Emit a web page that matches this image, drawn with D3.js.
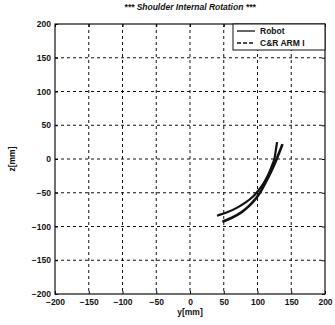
<!DOCTYPE html>
<html>
<head>
<meta charset="utf-8">
<script src="https://cdn.jsdelivr.net/npm/d3@7"></script>
<style>
body { margin: 0; background: #fff; }
svg text { font-family: "Liberation Sans", Arial, sans-serif; fill: #111; }
</style>
</head>
<body>
<svg id="chart" width="335" height="325"></svg>
<script>
// values
var ticks = [-200, -150, -100, -50, 0, 50, 100, 150, 200];
var robotY = [40, 55, 70, 83, 93, 101, 109, 116, 121, 125, 127, 129];
var robotZ = [-84, -79, -72, -64, -56, -47, -36, -23, -11, 0, 12, 25];
var armY = [48, 62, 76, 88, 98, 106, 113, 119, 125, 130, 134, 137];
var armZ = [-93, -87, -79, -69, -58, -46, -33, -21, -8, 4, 14, 22];
var seriesNames = ["Robot", "C&R ARM I"];

var svg = d3.select("#chart");
// plot box in pixels (window.top is taken, so plotTop etc.)
var plotLeft = 55, plotRight = 325, plotTop = 24, plotBottom = 294;

var x = d3.scaleLinear().domain([-200, 200]).range([plotLeft, plotRight]);
var y = d3.scaleLinear().domain([-200, 200]).range([plotBottom, plotTop]);

// grid
var grid = svg.append("g")
    .attr("stroke", "#111")
    .attr("stroke-width", 1)
    .attr("stroke-dasharray", "3,3");
grid.selectAll(".gx")
    .data(ticks.slice(1, -1))
    .join("line")
    .attr("class", "gx")
    .attr("x1", d => x(d)).attr("x2", d => x(d))
    .attr("y1", plotTop).attr("y2", plotBottom);
grid.selectAll(".gy")
    .data(ticks.slice(1, -1))
    .join("line")
    .attr("class", "gy")
    .attr("y1", d => y(d)).attr("y2", d => y(d))
    .attr("x1", plotLeft).attr("x2", plotRight);

// axes, matlab style ticks on all four sides
var xAxis = d3.axisBottom(x).tickValues(ticks).tickSize(-3).tickPadding(5);
var yAxis = d3.axisLeft(y).tickValues(ticks).tickSize(-3).tickPadding(4);

svg.append("g")
    .attr("transform", "translate(0," + plotBottom + ")")
    .call(xAxis)
    .call(g => g.select(".domain").remove())
    .selectAll("text").style("font-size", "8.5px").style("font-weight", "bold");
svg.append("g")
    .attr("transform", "translate(" + plotLeft + ",0)")
    .call(yAxis)
    .call(g => g.select(".domain").remove())
    .selectAll("text").style("font-size", "8.5px").style("font-weight", "bold");
svg.append("g")
    .attr("transform", "translate(0," + plotTop + ")")
    .call(d3.axisTop(x).tickValues(ticks).tickSize(-3).tickFormat(""))
    .call(g => g.select(".domain").remove());
svg.append("g")
    .attr("transform", "translate(" + plotRight + ",0)")
    .call(d3.axisRight(y).tickValues(ticks).tickSize(-3).tickFormat(""))
    .call(g => g.select(".domain").remove());

svg.append("rect")
    .attr("x", plotLeft).attr("y", plotTop)
    .attr("width", plotRight - plotLeft).attr("height", plotBottom - plotTop)
    .attr("fill", "none").attr("stroke", "#111").attr("stroke-width", 1.2);

// curves
var line = d3.line().x(d => x(d[0])).y(d => y(d[1])).curve(d3.curveCatmullRom);
var robot = robotY.map((v, i) => [v, robotZ[i]]);
var arm = armY.map((v, i) => [v, armZ[i]]);

svg.append("path").datum(robot)
    .attr("d", line).attr("fill", "none")
    .attr("stroke", "#111").attr("stroke-width", 2.2);
svg.append("path").datum(arm)
    .attr("d", line).attr("fill", "none")
    .attr("stroke", "#111").attr("stroke-width", 2.6);

// legend
var lg = svg.append("g");
lg.append("rect")
    .attr("x", 233).attr("y", plotTop).attr("width", plotRight - 233).attr("height", 26)
    .attr("fill", "#fff").attr("stroke", "#111").attr("stroke-width", 1);
lg.selectAll(".ll")
    .data(seriesNames)
    .join("line")
    .attr("class", "ll")
    .attr("x1", 237).attr("x2", 255)
    .attr("y1", (d, i) => 31 + i * 12).attr("y2", (d, i) => 31 + i * 12)
    .attr("stroke", "#111").attr("stroke-width", 1.3)
    .attr("stroke-dasharray", (d, i) => i ? "4,2" : null);
lg.selectAll(".lt")
    .data(seriesNames)
    .join("text")
    .attr("class", "lt")
    .attr("x", 260).attr("y", (d, i) => 34 + i * 12)
    .style("font-size", "8.5px").style("font-weight", "bold")
    .text(d => d);

// titles
svg.append("text")
    .attr("x", 190).attr("y", 10)
    .attr("text-anchor", "middle")
    .style("font-size", "8.5px").style("font-weight", "bold").style("font-style", "italic")
    .text("*** Shoulder Internal Rotation ***");
svg.append("text")
    .attr("x", 190).attr("y", 315)
    .attr("text-anchor", "middle")
    .style("font-size", "8.5px").style("font-weight", "bold")
    .text("y[mm]");
svg.append("text")
    .attr("transform", "translate(15," + y(0) + ") rotate(-90)")
    .attr("text-anchor", "middle")
    .style("font-size", "8.5px").style("font-weight", "bold")
    .text("z[mm]");
</script>
</body>
</html>
